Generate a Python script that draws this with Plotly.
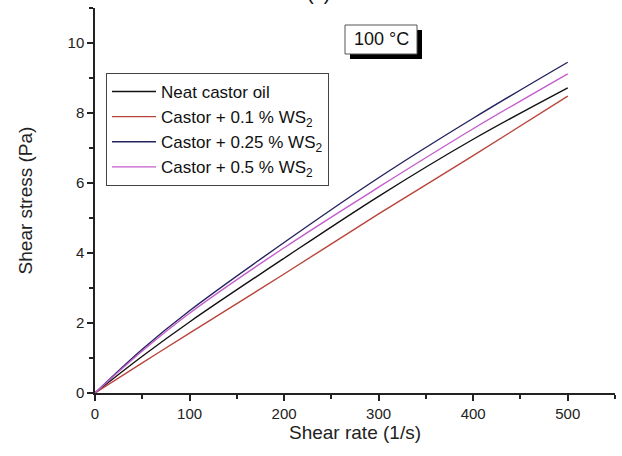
import plotly.graph_objects as go

shear_rate = [0, 50, 100, 200, 300, 400, 500]
neat = [0, 1.05, 2.03, 3.85, 5.62, 7.25, 8.72]
ws2_01 = [0, 0.86, 1.71, 3.40, 5.12, 6.78, 8.48]
ws2_025 = [0, 1.25, 2.35, 4.30, 6.15, 7.85, 9.45]
ws2_05 = [0, 1.20, 2.28, 4.15, 5.88, 7.55, 9.12]

names = ["Neat castor oil", "Castor + 0.1 % WS<sub>2</sub>",
         "Castor + 0.25 % WS<sub>2</sub>", "Castor + 0.5 % WS<sub>2</sub>"]
series = [neat, ws2_01, ws2_025, ws2_05]
colors = ["#111111", "#b8453c", "#22225e", "#c45ccc"]

fig = go.Figure()
for n, s, c in zip(names, series, colors):
    fig.add_trace(go.Scatter(x=shear_rate, y=s, name=n, mode="lines",
                             line=dict(color=c, width=1.4, shape="spline")))

W, H = 622, 456
L, R, T, B = 95, 615, 8, 393


def px(x):
    return (x - L) / (R - L)


def py(y):
    return (B - y) / (B - T)


FONT = "Liberation Sans, Arial, sans-serif"

fig.update_layout(
    width=W, height=H,
    margin=dict(l=L, r=W - R, t=T, b=H - B),
    paper_bgcolor="white", plot_bgcolor="white",
    font=dict(family=FONT, color="#222", size=15),
    showlegend=True,
    legend=dict(x=px(106), y=py(73), xanchor="left", yanchor="top",
                bgcolor="white", bordercolor="#444", borderwidth=1,
                font=dict(size=17, color="#111"), tracegroupgap=0,
                itemwidth=44),
    xaxis=dict(range=[0, 550], tickvals=[0, 100, 200, 300, 400, 500],
               showline=True, linecolor="#222", linewidth=1.5,
               ticks="outside", ticklen=6, tickwidth=1.5, tickcolor="#222",
               showgrid=False, zeroline=False, tickfont=dict(size=15),
               minor=dict(dtick=50, ticks="outside", ticklen=4, tickwidth=1.5,
                          tickcolor="#222", showgrid=False),
               title=dict(text="Shear rate (1/s)", font=dict(size=19), standoff=3)),
    yaxis=dict(range=[0, 11], tickvals=[0, 2, 4, 6, 8, 10],
               showline=True, linecolor="#222", linewidth=1.5,
               ticks="outside", ticklen=6, tickwidth=1.5, tickcolor="#222",
               showgrid=False, zeroline=False, tickfont=dict(size=15),
               minor=dict(dtick=1, ticks="outside", ticklen=4, tickwidth=1.5,
                          tickcolor="#222", showgrid=False),
               title=dict(text="Shear stress (Pa)", font=dict(size=19), standoff=30)),
)

# temperature label box with shadow
fig.add_shape(type="rect", xref="paper", yref="paper",
              x0=px(350), x1=px(422), y0=py(59), y1=py(30),
              fillcolor="black", line=dict(width=0))
fig.add_shape(type="rect", xref="paper", yref="paper",
              x0=px(345), x1=px(417), y0=py(54), y1=py(25),
              fillcolor="white", line=dict(color="#555", width=1))
fig.add_annotation(xref="paper", yref="paper", x=px(381), y=py(39.5),
                   text="100 °C", showarrow=False, font=dict(size=18, color="#111"),
                   xanchor="center", yanchor="middle")

# partially visible panel title
fig.add_annotation(xref="paper", yref="paper", x=px(318), y=py(6),
                   text="(c)", showarrow=False, font=dict(size=20, color="#111"),
                   xanchor="center", yanchor="bottom")

fig.write_html("out.html", config={"displayModeBar": False},
               post_script="document.body.style.margin='0';")
